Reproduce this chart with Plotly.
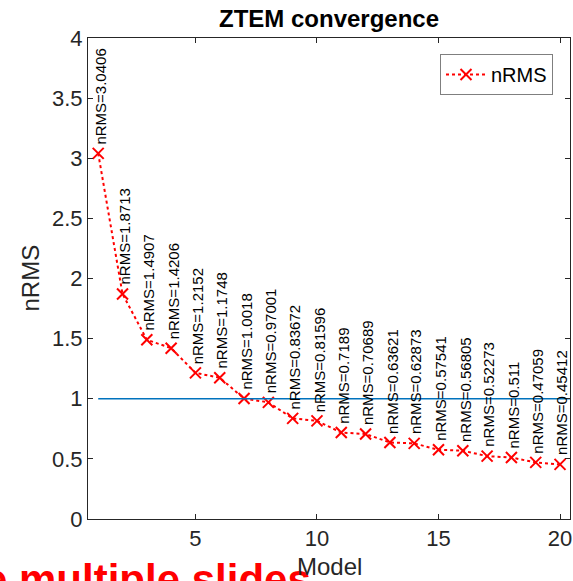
import plotly.graph_objects as go

models = list(range(1, 21))
nrms = [3.0406, 1.8713, 1.4907, 1.4206, 1.2152, 1.1748, 1.0018, 0.97001, 0.83672, 0.81596,
        0.7189, 0.70689, 0.63621, 0.62873, 0.57541, 0.56805, 0.52273, 0.511, 0.47059, 0.45412]
threshold_x = [1, 21]
threshold_y = [1.0, 1.0]
x_ticks = [5, 10, 15, 20]
y_ticks = [0, 0.5, 1, 1.5, 2, 2.5, 3, 3.5, 4]
y_tick_labels = ["0", "0.5", "1", "1.5", "2", "2.5", "3", "3.5", "4"]

FONT = "Liberation Sans, Arial, sans-serif"
AX = "#262626"

W, H = 573, 581
L, R, T, B = 88, 3, 38, 62
PW, PH = W - L - R, H - T - B


def px_x(p):
    return (p - L) / PW


def px_y(p):
    return (H - B - p) / PH


fig = go.Figure()
fig.add_trace(go.Scatter(
    x=models, y=nrms, name="nRMS", mode="lines+markers",
    line=dict(color="#FF0000", width=2, dash="dot"),
    marker=dict(symbol="x-thin", size=11, line=dict(color="#FF0000", width=2)),
))
fig.add_trace(go.Scatter(
    x=threshold_x, y=threshold_y, mode="lines", showlegend=False,
    line=dict(color="#0072BD", width=1.5), hoverinfo="skip",
))

annotations = []
annotations.append(dict(
    x=px_x(-18), y=px_y(554), xref="paper", yref="paper",
    text="<b>e multiple slides</b>", showarrow=False, xanchor="left", yanchor="top",
    font=dict(family=FONT, size=42, color="#FF0000"),
))
for m, v in zip(models, nrms):
    annotations.append(dict(
        x=m, y=v, xref="x", yref="y", text="nRMS=" + str(v),
        textangle=-90, showarrow=False, xanchor="center", yanchor="bottom",
        xshift=2, yshift=7, font=dict(family=FONT, size=15, color="#000000"),
    ))
annotations.append(dict(
    x=0.5, y=px_y(566), xref="paper", yref="paper", text="Model",
    showarrow=False, xanchor="center", yanchor="middle",
    font=dict(family=FONT, size=24, color=AX),
))
annotations.append(dict(
    x=px_x(30), y=0.5, xref="paper", yref="paper", text="nRMS", textangle=-90,
    showarrow=False, xanchor="center", yanchor="middle",
    font=dict(family=FONT, size=24, color=AX),
))

axis_common = dict(
    showline=True, mirror="ticks", linecolor=AX, linewidth=1, automargin=False,
    ticks="inside", ticklen=5, tickcolor=AX, showgrid=False, zeroline=False,
    tickfont=dict(family=FONT, size=22, color=AX),
)

fig.update_layout(
    width=W, height=H,
    margin=dict(l=L, r=R, t=T, b=B, autoexpand=False),
    plot_bgcolor="white", paper_bgcolor="white",
    title=dict(text="<b>ZTEM convergence</b>", x=0.5, xref="paper",
               y=1 - 18.5 / H, yref="container", yanchor="middle", automargin=False,
               font=dict(family=FONT, size=24, color="#000000")),
    xaxis=dict(range=[0.58, 20.41], tickvals=x_ticks, **axis_common),
    yaxis=dict(range=[0, 4], tickvals=y_ticks, ticktext=y_tick_labels, **axis_common),
    legend=dict(x=px_x(553), y=px_y(54), xanchor="right", yanchor="top",
                bordercolor="#7F7F7F", borderwidth=1, bgcolor="white", itemwidth=40,
                font=dict(family=FONT, size=20, color="#000000")),
    annotations=annotations,
    showlegend=True,
)

fig.write_html("out.html", config={"displayModeBar": False},
               post_script="document.body.style.margin='0';document.body.style.overflow='hidden';")
